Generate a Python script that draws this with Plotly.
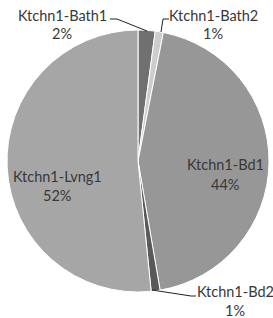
import plotly.graph_objects as go

labels = ["Ktchn1-Bath1", "Ktchn1-Bath2", "Ktchn1-Bd1", "Ktchn1-Bd2", "Ktchn1-Lvng1"]
values = [2.1, 1.0, 44.2, 1.1, 51.6]
colors = ["#707070", "#cdcdcd", "#979797", "#595959", "#a6a6a6"]

W, H = 273, 318
cx, cy, r = 138, 161, 131

fig = go.Figure(go.Pie(
    labels=labels, values=values, sort=False, direction="clockwise", rotation=0,
    marker=dict(colors=colors, line=dict(color="white", width=1)),
    textinfo="none", hoverinfo="label+percent", showlegend=False,
    domain=dict(x=[(cx - r) / W, (cx + r) / W], y=[(H - cy - r) / H, (H - cy + r) / H]),
))

total = sum(values)
pcts = [f"{round(v / total * 100):.0f}%" for v in values]

# label anchor positions in pixels (center x, name line y, pct line y)
label_pos = [(62, 16, 34), (213, 16, 34), (225, 164, 184), (235, 291, 310), (57, 176, 195)]

ann = []
for lab, p, (x, y1, y2) in zip(labels, pcts, label_pos):
    ann.append(dict(x=x / W, y=1 - y1 / H, xref="paper", yref="paper", text=lab,
                    showarrow=False, xanchor="center", yanchor="middle"))
    ann.append(dict(x=x / W, y=1 - y2 / H, xref="paper", yref="paper", text=p,
                    showarrow=False, xanchor="center", yanchor="middle"))

leaders = [
    [(110, 19), (117, 19), (147, 31)],
    [(169, 19), (163, 19), (161, 32)],
    [(196, 296), (191, 296), (152, 290)],
]
shapes = []
for pts in leaders:
    for (x0, y0), (x1, y1) in zip(pts[:-1], pts[1:]):
        shapes.append(dict(type="line", xref="paper", yref="paper",
                           x0=x0 / W, y0=1 - y0 / H, x1=x1 / W, y1=1 - y1 / H,
                           line=dict(color="#222222", width=1)))

fig.update_layout(
    width=W, height=H, margin=dict(l=0, r=0, t=0, b=0),
    paper_bgcolor="white", plot_bgcolor="white",
    font=dict(family="Lato, Carlito, sans-serif", size=14.5, color="#383838"),
    annotations=ann, shapes=shapes,
)
fig.write_html("out.html", config={"displayModeBar": False},
               post_script="document.body.style.margin='0px';document.body.style.overflow='hidden';")
